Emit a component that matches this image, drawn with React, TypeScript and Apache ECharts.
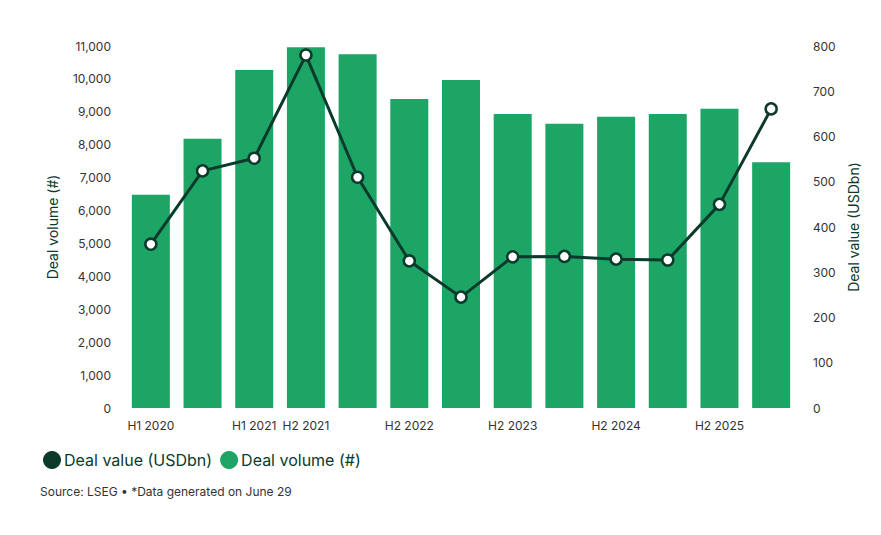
import React, { useEffect, useRef } from "react";
import * as echarts from "echarts";

const categories = [
  "H1 2020", "H2 2020", "H1 2021", "H2 2021", "H1 2022", "H2 2022", "H1 2023",
  "H2 2023", "H1 2024", "H2 2024", "H1 2025", "H2 2025", "H1 2026",
];
const shownLabelIdx = [0, 2, 3, 5, 7, 9, 11];
const dealVolume = [6480, 8180, 10270, 10960, 10750, 9390, 9970, 8930, 8640, 8850, 8930, 9090, 7470];
const dealValue = [362, 524, 552, 780, 510, 325, 245, 334, 335, 329, 327, 450, 661];

const BAR = "#1ca564";
const DARK = "#0b3a2c";
const TXT = "#333333";
const FONT = "Inter, 'Liberation Sans', sans-serif";

export default function App() {
  const ref = useRef<HTMLDivElement>(null);
  useEffect(() => {
    if (!ref.current) return;
    const chart = echarts.init(ref.current, null, { renderer: "svg" });
    chart.setOption({
      animation: false,
      textStyle: { fontFamily: FONT },
      grid: { left: 125, right: 84, top: 46, bottom: 127 },
      legend: {
        left: 38,
        top: 446,
        icon: "circle",
        itemWidth: 18,
        itemHeight: 18,
        itemGap: 8,
        textStyle: { fontSize: 16, color: DARK, fontFamily: FONT, padding: [0, 0, 0, -2] },
        data: [
          { name: "Deal value (USDbn)", itemStyle: { color: DARK, borderWidth: 0 } },
          { name: "Deal volume (#)", itemStyle: { color: BAR, borderWidth: 0 } },
        ],
      },
      graphic: [
        {
          type: "text",
          left: 40,
          top: 485,
          style: {
            text: "Source: LSEG • *Data generated on June 29",
            fontSize: 12,
            fill: TXT,
            fontFamily: FONT,
          },
        },
      ],
      xAxis: {
        type: "category",
        data: categories,
        axisLine: { show: false },
        axisTick: { show: false },
        axisLabel: {
          interval: (i: number) => shownLabelIdx.includes(i),
          color: TXT,
          fontSize: 12,
          margin: 11,
          fontFamily: FONT,
        },
      },
      yAxis: [
        {
          type: "value",
          min: 0,
          max: 11000,
          interval: 1000,
          name: "Deal volume (#)",
          nameLocation: "middle",
          nameRotate: 90,
          nameGap: 66,
          nameTextStyle: { fontSize: 14, color: DARK, fontFamily: FONT },
          axisLine: { show: false },
          axisTick: { show: false },
          splitLine: { show: false },
          axisLabel: {
            color: TXT,
            fontSize: 12,
            margin: 14,
            fontFamily: FONT,
            formatter: (v: number) => v.toLocaleString("en-US"),
          },
        },
        {
          type: "value",
          min: 0,
          max: 800,
          interval: 100,
          position: "right",
          name: "Deal value (USDbn)",
          nameLocation: "middle",
          nameRotate: 90,
          nameGap: 48,
          nameTextStyle: { fontSize: 14, color: DARK, fontFamily: FONT },
          axisLine: { show: false },
          axisTick: { show: false },
          splitLine: { show: false },
          axisLabel: { color: TXT, fontSize: 12, margin: 16, fontFamily: FONT },
        },
      ],
      series: [
        {
          name: "Deal volume (#)",
          type: "bar",
          yAxisIndex: 0,
          data: dealVolume,
          barWidth: 38,
          itemStyle: { color: BAR },
        },
        {
          name: "Deal value (USDbn)",
          type: "line",
          yAxisIndex: 1,
          data: dealValue,
          symbol: "circle",
          symbolSize: 11,
          lineStyle: { color: DARK, width: 3 },
          itemStyle: { color: "#ffffff", borderColor: DARK, borderWidth: 2.5 },
          z: 5,
        },
      ],
    });
    return () => chart.dispose();
  }, []);
  return (
    <div
      ref={ref}
      style={{ position: "fixed", left: 0, top: 0, width: 881, height: 535, background: "#fff" }}
    />
  );
}
